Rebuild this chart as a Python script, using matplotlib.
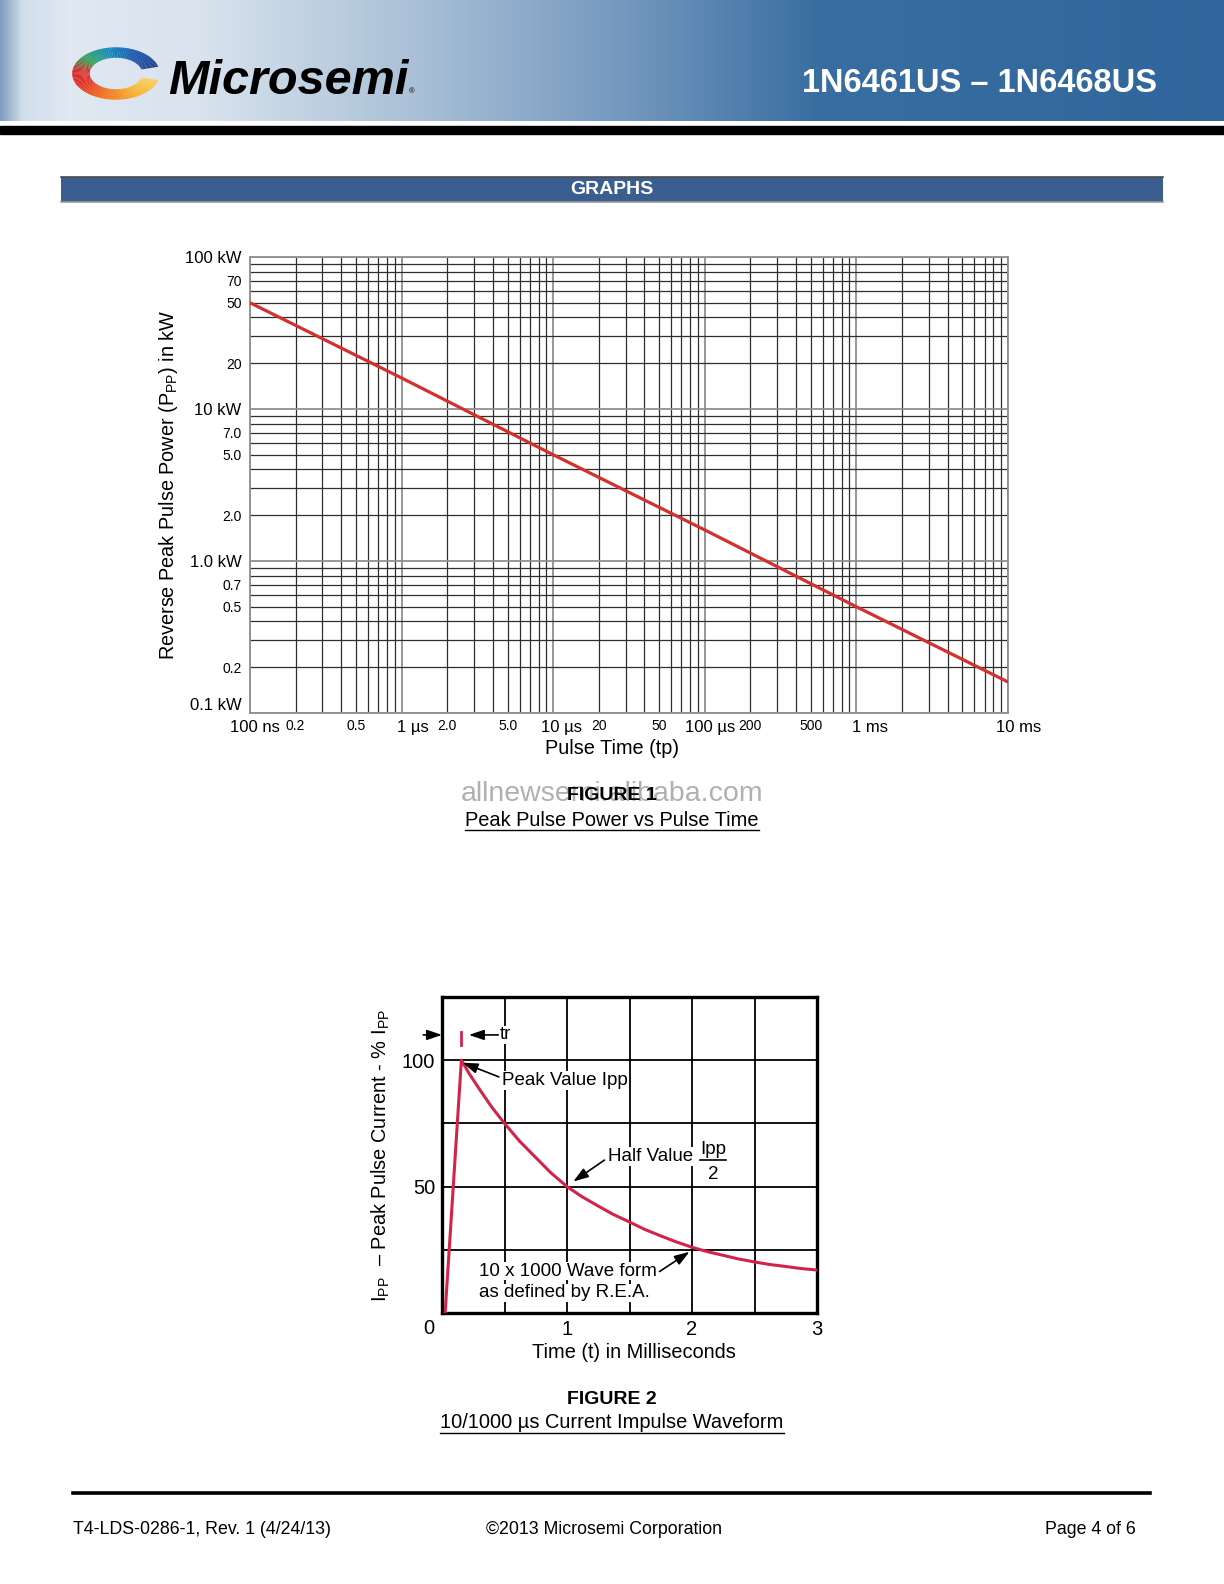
import numpy as np
import matplotlib
matplotlib.use('Agg')
import matplotlib.pyplot as plt
from matplotlib.patches import Wedge, Rectangle
from matplotlib import font_manager

plt.rcParams['font.family'] = ['Liberation Sans', 'DejaVu Sans']
plt.rcParams['mathtext.fontset'] = 'custom'
plt.rcParams['mathtext.rm'] = 'Liberation Sans'
plt.rcParams['mathtext.it'] = 'Liberation Sans:italic'

# ---- figure 1 data: peak pulse power vs pulse time ----
pulse_time_s = [1e-7, 1e-6, 1e-5, 1e-4, 1e-3, 1e-2]
peak_power_kw = [50, 16, 5.0, 1.6, 0.5, 0.16]

x_major = [1e-7, 1e-6, 1e-5, 1e-4, 1e-3, 1e-2]
x_major_num = ['100', '1', '10', '100', '1', '10']
x_major_unit = ['ns', 'µs', 'µs', 'µs', 'ms', 'ms']
x_minor_labeled = [2e-7, 5e-7, 2e-6, 5e-6, 2e-5, 5e-5, 2e-4, 5e-4]
x_minor_text = ['0.2', '0.5', '2.0', '5.0', '20', '50', '200', '500']
y_major = [0.1, 1, 10, 100]
y_major_labels = ['0.1 kW', '1.0 kW', '10 kW', '100 kW']
y_minor_labeled = [0.2, 0.5, 0.7, 2, 5, 7, 20, 50, 70]
y_minor_text = ['0.2', '0.5', '0.7', '2.0', '5.0', '7.0', '20', '50', '70']

# ---- figure 2 data: 10/1000 us current impulse waveform ----
t_ms = [0.025, 0.155, 0.22, 0.3, 0.4, 0.5, 0.62, 0.75, 0.87, 1.0, 1.12, 1.25, 1.37, 1.5,
        1.62, 1.75, 1.87, 2.0, 2.12, 2.25, 2.37, 2.5, 2.62, 2.75, 2.87, 3.0]
i_pct = [0, 100, 94.5, 88.5, 81.3, 75, 68, 61.5, 55.5, 50, 46, 42.3, 39, 36,
         33.1, 30.5, 28.2, 26, 24.3, 22.8, 21.4, 20.2, 19.2, 18.4, 17.6, 17]

W, H = 1224, 1584
fig = plt.figure(figsize=(W / 100, H / 100), dpi=100)


def px_axes(l, t, r, b):
    return fig.add_axes([l / W, 1 - b / H, (r - l) / W, (b - t) / H])


names = {f.name for f in font_manager.fontManager.ttflist}
narrow = 'Liberation Sans Narrow' in names

bg = fig.add_axes([0, 0, 1, 1])
bg.axis('off')

# header band
stops_x = [0, 22, 70, 200, 420, 620, 820, 1224]
stops_c = [(0.50, 0.62, 0.75), (0.82, 0.87, 0.92), (0.88, 0.91, 0.95), (0.85, 0.89, 0.93),
           (0.66, 0.75, 0.84), (0.46, 0.60, 0.75), (0.22, 0.43, 0.63), (0.19, 0.40, 0.61)]
grad = np.zeros((1, W, 3))
for c in range(3):
    grad[0, :, c] = np.interp(np.arange(W), stops_x, [s[c] for s in stops_c])
bg.imshow(grad, extent=[0, W, 121, 0], aspect='auto', interpolation='bilinear')
bg.add_patch(Rectangle((0, 126), W, 8, color='black'))
bg.set_xlim(0, W)
bg.set_ylim(H, 0)

if narrow:
    bg.text(1157, 84, '1N6461US – 1N6468US', ha='right', va='center', color='white',
            fontsize=28, fontweight='bold', family='Liberation Sans Narrow')
else:
    bg.text(1157, 84, '1N6461US – 1N6468US', ha='right', va='center', color='white',
            fontsize=23.5, fontweight='bold')

bg.text(168, 94, 'Microsemi', ha='left', va='baseline', fontsize=35, fontweight='bold',
        fontstyle='italic', color='black')
bg.text(409, 93, '®', ha='left', va='baseline', fontsize=5.5, color='black')

# logo ring
logo = px_axes(70, 46, 162, 101)
logo.set_xlim(-1.05, 1.05)
logo.set_ylim(-1.05, 1.05)
logo.axis('off')
ang_stops = [15, 60, 100, 140, 175, 205, 250, 300, 345]
ang_cols = [(0.10, 0.25, 0.55), (0.12, 0.35, 0.68), (0.10, 0.55, 0.75), (0.20, 0.65, 0.35),
            (0.85, 0.15, 0.15), (0.88, 0.18, 0.15), (0.95, 0.45, 0.12), (0.97, 0.70, 0.20),
            (0.98, 0.82, 0.35)]
for a in np.arange(15, 345, 3):
    col = [np.interp(a + 1.5, ang_stops, [cc[k] for cc in ang_cols]) for k in range(3)]
    logo.add_patch(Wedge((0, 0), 1.0, a, a + 3.3, width=0.4, color=col, lw=0))

# GRAPHS bar
bg.add_patch(Rectangle((61, 177), 1102, 25, facecolor='#3a5e90', edgecolor='none'))
bg.plot([61, 1163], [177, 177], color='#4a4a4a', lw=1.2)
bg.plot([61, 1163], [202, 202], color='#9a9a9a', lw=1.2)
bg.text(612, 189.5, 'GRAPHS', ha='center', va='center', color='white', fontsize=14,
        fontweight='bold')

# ---------------- figure 1 ----------------
ax1 = px_axes(250, 257, 1008, 713)
ax1.set_xscale('log')
ax1.set_yscale('log')
ax1.plot(pulse_time_s, peak_power_kw, color='#d3302f', lw=2.3, solid_capstyle='butt', zorder=5)
ax1.set_xlim(1e-7, 1e-2)
ax1.set_ylim(0.1, 100)


def pick(v, keys, texts):
    for k, t in zip(keys, texts):
        if np.isclose(v, k):
            return t
    return ''


x_minor = [k * 10.0 ** e for e in range(-7, -2) for k in range(2, 10)]
y_minor = [k * 10.0 ** e for e in range(-1, 2) for k in range(2, 10)]
ax1.set_xticks(x_major, [''] * len(x_major))
ax1.set_xticks(x_minor, [pick(v, x_minor_labeled, x_minor_text) for v in x_minor], minor=True)
ax1.set_yticks(y_major, y_major_labels)
ax1.set_yticks(y_minor, [pick(v, y_minor_labeled, y_minor_text) for v in y_minor], minor=True)
ax1.tick_params(which='both', length=0)
ax1.tick_params(which='major', labelsize=12, pad=6)
ax1.tick_params(axis='x', which='minor', labelsize=10, pad=4)
ax1.tick_params(axis='y', which='minor', labelsize=10, pad=6)
ax1.grid(which='major', color='#8f8f8f', lw=1.3)
ax1.grid(which='minor', color='#2e2e2e', lw=0.9)
for s in ax1.spines.values():
    s.set_color('#8f8f8f')
    s.set_linewidth(1.3)
ax1.get_yticklabels()[0].set_va('bottom')

# major time labels: the number part sits on the decade line
for xv, num, unit in zip(x_major, x_major_num, x_major_unit):
    ax1.annotate(num + ' ' + unit, xy=(xv, 0), xycoords=('data', 'axes fraction'),
                 xytext=(-5.45 * len(num) + 2.2, -5), textcoords='offset points',
                 ha='left', va='top', fontsize=12, annotation_clip=False)

bg.text(612, 749, 'Pulse Time (tp)', ha='center', va='center', fontsize=14.3)
bg.text(169, 485, r'Reverse Peak Pulse Power (P$_{\mathrm{PP}}$) in kW', ha='center',
        va='center', rotation=90, fontsize=14.3)

bg.text(612, 794, 'allnewsemi.alibaba.com', ha='center', va='center', fontsize=20.5,
        color='#b0b0b0')
bg.text(612, 796, 'FIGURE 1', ha='center', va='center', fontsize=14, fontweight='bold')
cap1 = bg.text(612, 820, 'Peak Pulse Power vs Pulse Time', ha='center', va='center',
               fontsize=14.4)

# ---------------- figure 2 ----------------
ax2 = px_axes(442, 997, 817, 1313)
red2 = '#d4234a'
ax2.plot(t_ms, i_pct, color=red2, lw=2.2, zorder=5, solid_joinstyle='round')
ax2.set_xlim(0, 3)
ax2.set_ylim(0, 125)
ax2.set_xticks([0, 0.5, 1, 1.5, 2, 2.5, 3], ['', '', '1', '', '2', '', '3'])
ax2.set_yticks([25, 50, 75, 100], ['', '50', '', '100'])
ax2.tick_params(length=0, labelsize=14.5)
ax2.tick_params(axis='x', pad=5)
ax2.tick_params(axis='y', pad=5)
ax2.grid(color='black', lw=1.3)
for s in ax2.spines.values():
    s.set_color('black')
    s.set_linewidth(2.4)
bg.text(429, 1328, '0', ha='center', va='center', fontsize=14.5)

arrow_kw = dict(arrowstyle='-|>,head_length=0.65,head_width=0.22', color='black', lw=1.2,
                shrinkA=0, shrinkB=0, mutation_scale=14)
tbox = dict(facecolor='white', edgecolor='none', pad=0.6)

t_peak = t_ms[int(np.argmax(i_pct))]
# tr marker
ax2.plot([t_peak, t_peak], [106.0, 111.3], color=red2, lw=2, clip_on=False, zorder=6)
ax2.annotate('', xy=(0.0, 110.0), xytext=(-0.15, 110.0), arrowprops=arrow_kw,
             annotation_clip=False)
ax2.annotate('', xy=(t_peak + 0.06, 110.0), xytext=(0.45, 110.0), arrowprops=arrow_kw,
             annotation_clip=False)
ax2.text(0.462, 110.0, 'tr', ha='left', va='center', fontsize=13.5, bbox=tbox, zorder=7)

# peak value
ax2.text(0.48, 92.0, 'Peak Value Ipp', ha='left', va='center', fontsize=13.5, bbox=tbox,
         zorder=7)
ax2.annotate('', xy=(t_peak + 0.01, 99.0), xytext=(0.455, 93.4), arrowprops=arrow_kw,
             zorder=8)

# half value
ax2.text(1.33, 62.0, 'Half Value', ha='left', va='center', fontsize=13.5, bbox=tbox, zorder=7)
ax2.text(2.17, 64.8, 'Ipp', ha='center', va='center', fontsize=13.5, bbox=tbox, zorder=7)
ax2.text(2.17, 54.8, '2', ha='center', va='center', fontsize=13.5, bbox=tbox, zorder=7)
ax2.plot([2.065, 2.275], [60.6, 60.6], color='black', lw=1.2, zorder=8)
ax2.annotate('', xy=(1.05, 52.0), xytext=(1.30, 60.5), arrowprops=arrow_kw, zorder=8)

# waveform note
ax2.text(0.295, 16.6, '10 x 1000 Wave form', ha='left', va='center', fontsize=13.5,
         bbox=tbox, zorder=7)
ax2.text(0.295, 8.0, 'as defined by R.E.A.', ha='left', va='center', fontsize=13.5,
         bbox=tbox, zorder=7)
ax2.annotate('', xy=(1.98, 24.2), xytext=(1.74, 16.4), arrowprops=arrow_kw, zorder=8)

bg.text(634, 1353, 'Time (t) in Milliseconds', ha='center', va='center', fontsize=14.4)
bg.text(381, 1156, r'I$_{\mathrm{PP}}$  – Peak Pulse Current - % I$_{\mathrm{PP}}$',
        ha='center', va='center', rotation=90, fontsize=14.4)

bg.text(612, 1400, 'FIGURE 2', ha='center', va='center', fontsize=14, fontweight='bold')
cap2 = bg.text(612, 1423, '10/1000 µs Current Impulse Waveform', ha='center', va='center',
               fontsize=14.4)

# footer
bg.plot([73, 1150], [1493, 1493], color='black', lw=2.6)
bg.text(73, 1529, 'T4-LDS-0286-1, Rev. 1 (4/24/13)', ha='left', va='center', fontsize=12.8)
bg.text(486, 1529, '©2013 Microsemi Corporation', ha='left', va='center', fontsize=12.8)
bg.text(1136, 1529, 'Page 4 of 6', ha='right', va='center', fontsize=12.8)

# underline the figure captions
fig.canvas.draw()
r = fig.canvas.get_renderer()
for cap, yy in [(cap1, 830), (cap2, 1433)]:
    bb = cap.get_window_extent(r)
    bg.plot([bb.x0, bb.x1], [yy, yy], color='black', lw=1.0)

fig.savefig('out.png', dpi=100)
